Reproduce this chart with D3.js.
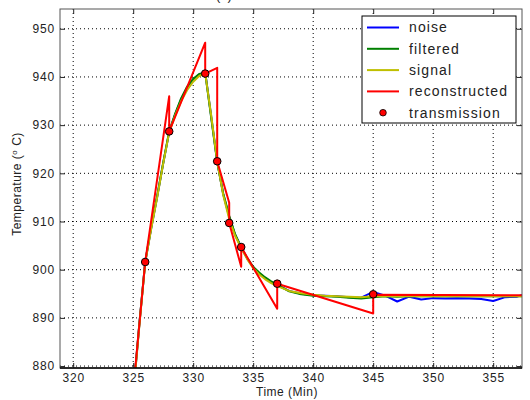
<!DOCTYPE html>
<html>
<head>
<meta charset="utf-8">
<script src="https://cdn.jsdelivr.net/npm/d3@7"></script>
<style>
  body { margin: 0; background: #fff; }
  svg text { font-family: "Liberation Sans", Arial, sans-serif; fill: #222; }
</style>
</head>
<body>
<div id="chart"></div>
<script>
// Données
const times = [324.5, 325, 325.5, 326, 326.5, 327, 327.5, 328, 328.5, 329, 329.5, 330, 330.5,
  331, 331.5, 332, 332.5, 333, 333.5, 334, 334.5, 335, 335.5, 336, 336.5, 337,
  338, 339, 340, 341, 342, 343, 344, 345, 346, 347, 348, 349, 350, 351, 352,
  353, 354, 355, 356, 357, 358];

const signal = [862, 874, 888, 901.5, 908.5, 915, 922, 928.5, 932, 935, 937.3, 939, 940.2,
  940.8, 932, 922.5, 915.5, 910.5, 907, 904.5, 902.2, 900.3, 899, 898, 897.2, 896.6,
  895.6, 895.1, 894.8, 894.6, 894.5, 894.4, 894.3, 894.5, 894.5, 894.5, 894.5, 894.5, 894.5, 894.5, 894.5,
  894.5, 894.5, 894.5, 894.5, 894.5, 894.5];

const filtered = [862, 874, 888.5, 901.5, 908.8, 915.3, 922.2, 928.7, 932.4, 935.6, 938, 939.6, 940.6,
  940.9, 931.5, 922.3, 915.8, 911.2, 907.3, 904.6, 902.4, 900.6, 899.4, 898.4, 897.6, 896.9,
  895.5, 894.9, 894.6, 894.5, 894.4, 894.2, 894.0, 894.3, 894.5, 894.4, 894.5, 894.5, 894.5, 894.5, 894.5,
  894.5, 894.5, 894.5, 894.5, 894.5, 894.5];

const noise = [862, 874.2, 888.3, 901.7, 908.6, 915.2, 922.1, 928.6, 932.3, 935.4, 937.8, 939.5, 940.5,
  941, 931.8, 922.4, 915.7, 911, 907.2, 904.7, 902.3, 900.5, 899.2, 898.3, 897.4, 896.8,
  895.6, 895.0, 894.7, 894.6, 894.5, 894.3, 894.2, 895.4, 894.6, 893.4, 894.4, 893.8, 894.1, 894.0, 894.1,
  894.0, 893.9, 893.5, 894.3, 894.4, 895.3];

// Reconstruction (prédiction linéaire puis saut à la valeur transmise)
const reconTimes = [325.0, 326, 328, 328, 331, 331, 332, 332, 333, 333, 334, 334, 337, 337, 345, 345, 358];
const reconValues = [875, 901.6, 936, 928.7, 947.1, 940.7, 941.9, 922.5, 913.9, 909.7, 900.6, 904.7, 891.9, 897.1, 890.9, 894.8, 894.7];

// Points transmis
const txTimes = [326, 328, 331, 332, 333, 334, 337, 345];
const txValues = [901.6, 928.7, 940.7, 922.5, 909.7, 904.7, 897.1, 894.9];

const xTicks = [320, 325, 330, 335, 340, 345, 350, 355];
const yTicks = [880, 890, 900, 910, 920, 930, 940, 950];

const legendNames = ["noise", "filtered", "signal", "reconstructed", "transmission"];
const seriesColors = { noise: "#0000ff", filtered: "#008000", signal: "#bfbf00", reconstructed: "#ff0000" };

// Configuration générale
const width = 530;
const height = 400;
const margin = { top: 9, right: 8, bottom: 32, left: 60 };
const chartWidth = width - margin.left - margin.right;
const chartHeight = height - margin.top - margin.bottom;

const svg = d3.select("#chart").append("svg")
  .attr("width", width)
  .attr("height", height);

// Titre coupé en haut
svg.append("text")
  .attr("x", 224)
  .attr("y", 0)
  .style("text-anchor", "middle")
  .style("font-size", "13px")
  .text("(a)");

const g = svg.append("g")
  .attr("transform", `translate(${margin.left},${margin.top})`);

const x = d3.scaleLinear().domain([318.9, 357.4]).range([0, chartWidth]);
const y = d3.scaleLinear().domain([879.6, 954.1]).range([chartHeight, 0]);

g.append("clipPath").attr("id", "clip")
  .append("rect").attr("width", chartWidth).attr("height", chartHeight);

// Grille pointillée
const grid = g.append("g").attr("class", "grid");
grid.selectAll(".vgrid").data(xTicks).enter().append("line")
  .attr("x1", d => x(d)).attr("x2", d => x(d))
  .attr("y1", 0).attr("y2", chartHeight)
  .attr("stroke", "#000").attr("stroke-width", 1)
  .attr("stroke-dasharray", "1,3");
grid.selectAll(".hgrid").data(yTicks).enter().append("line")
  .attr("x1", 0).attr("x2", chartWidth)
  .attr("y1", d => y(d)).attr("y2", d => y(d))
  .attr("stroke", "#000").attr("stroke-width", 1)
  .attr("stroke-dasharray", "1,3");

// Courbes
const plot = g.append("g").attr("clip-path", "url(#clip)");
const line = d3.line().x(d => x(d[0])).y(d => y(d[1]));

const curves = [
  ["noise", times.map((t, i) => [t, noise[i]])],
  ["filtered", times.map((t, i) => [t, filtered[i]])],
  ["signal", times.map((t, i) => [t, signal[i]])],
  ["reconstructed", reconTimes.map((t, i) => [t, reconValues[i]])]
];

curves.forEach(([name, pts]) => {
  plot.append("path")
    .datum(pts)
    .attr("d", line)
    .attr("fill", "none")
    .attr("stroke", seriesColors[name])
    .attr("stroke-width", 2)
    .attr("stroke-linejoin", "round");
});

plot.selectAll(".tx")
  .data(txTimes.map((t, i) => [t, txValues[i]]))
  .enter().append("circle")
  .attr("class", "tx")
  .attr("cx", d => x(d[0]))
  .attr("cy", d => y(d[1]))
  .attr("r", 3.8)
  .attr("fill", "#ff0000")
  .attr("stroke", "#000")
  .attr("stroke-width", 1);

// Axes (graduations vers l'intérieur)
const axisX = g.append("g")
  .attr("transform", `translate(0,${chartHeight})`)
  .call(d3.axisBottom(x).tickValues(xTicks).tickSizeInner(-5).tickSizeOuter(0).tickPadding(5));
const axisY = g.append("g")
  .call(d3.axisLeft(y).tickValues(yTicks).tickSizeInner(-5).tickSizeOuter(0).tickPadding(5));
g.append("g")
  .call(d3.axisTop(x).tickValues(xTicks).tickSizeInner(-5).tickSizeOuter(0).tickFormat(""));
g.append("g")
  .attr("transform", `translate(${chartWidth},0)`)
  .call(d3.axisRight(y).tickValues(yTicks).tickSizeInner(-5).tickSizeOuter(0).tickFormat(""));

g.selectAll(".domain").remove();
g.selectAll(".tick line").attr("stroke", "#222");
[axisX, axisY].forEach(a => a.selectAll("text")
  .style("font-size", "12px")
  .style("letter-spacing", "0.8px")
  .attr("fill", "#222"));

// Cadre
g.append("rect")
  .attr("width", chartWidth).attr("height", chartHeight)
  .attr("fill", "none").attr("stroke", "#555").attr("stroke-width", 1);
g.append("line")
  .attr("x1", 0).attr("x2", chartWidth)
  .attr("y1", chartHeight).attr("y2", chartHeight)
  .attr("stroke", "#000").attr("stroke-width", 1.5);

// Labels des axes
g.append("text")
  .attr("x", 227)
  .attr("y", chartHeight + 28)
  .style("text-anchor", "middle")
  .style("font-size", "12px")
  .style("letter-spacing", "0.5px")
  .text("Time (Min)");

const yLabel = g.append("text")
  .attr("transform", `translate(${-39},${184 - margin.top}) rotate(-90)`)
  .style("text-anchor", "middle")
  .style("font-size", "12px")
  .style("letter-spacing", "0.5px");
yLabel.append("tspan").text("Temperature (");
yLabel.append("tspan").attr("baseline-shift", "super").style("font-size", "8px").text("o");
yLabel.append("tspan").text(" C)");

// Légende
const lx = 362 - margin.left, ly = 16 - margin.top;
const legend = g.append("g").attr("transform", `translate(${lx},${ly})`);
legend.append("rect")
  .attr("width", 154).attr("height", 107)
  .attr("fill", "#fff").attr("stroke", "#000").attr("stroke-width", 1);

legendNames.forEach((name, i) => {
  const cy = 11.5 + i * 21.3;
  if (name === "transmission") {
    legend.append("circle")
      .attr("cx", 21).attr("cy", cy).attr("r", 3.3)
      .attr("fill", "#ff0000").attr("stroke", "#000").attr("stroke-width", 0.8);
  } else {
    legend.append("line")
      .attr("x1", 5).attr("x2", 37).attr("y1", cy).attr("y2", cy)
      .attr("stroke", seriesColors[name]).attr("stroke-width", 2);
  }
  legend.append("text")
    .attr("x", 47).attr("y", cy)
    .attr("dy", "0.35em")
    .style("font-size", "14px")
    .style("letter-spacing", "1.1px")
    .text(name);
});
</script>
</body>
</html>
